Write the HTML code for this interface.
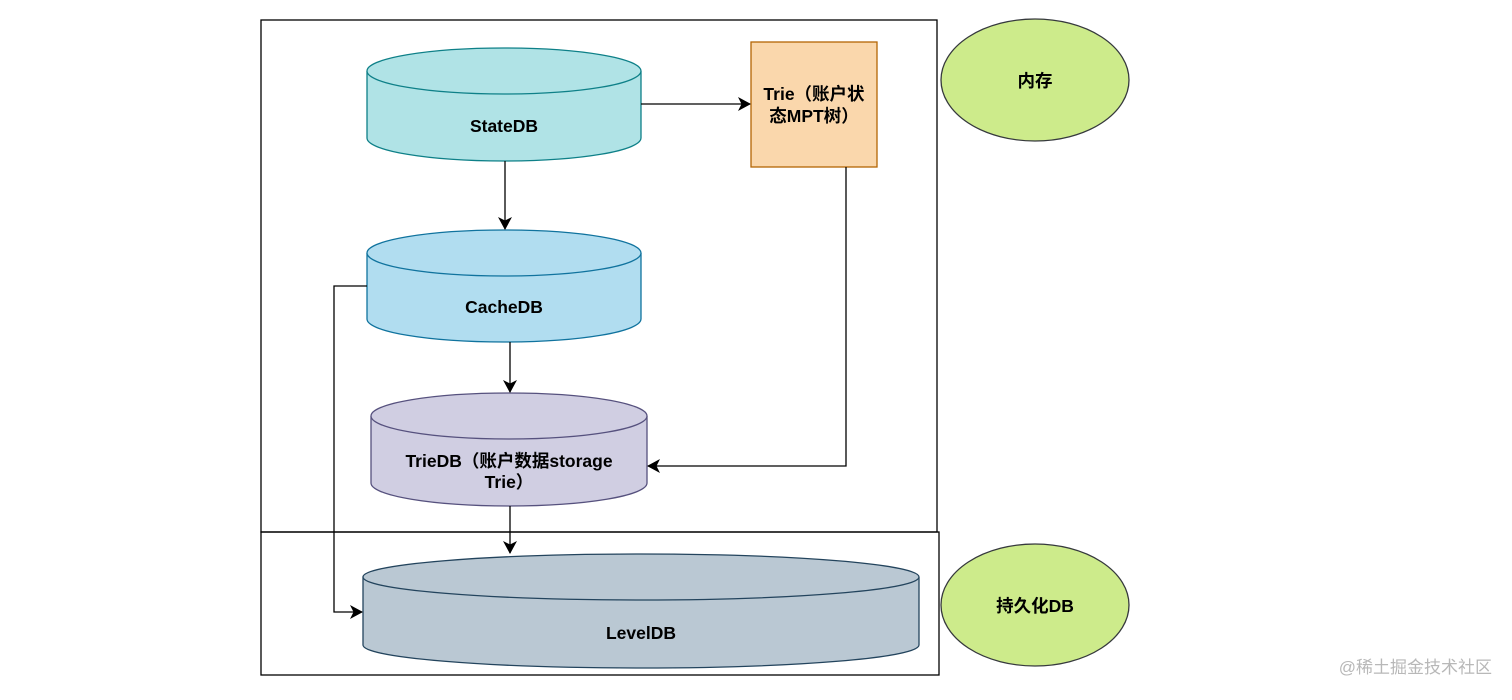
<!DOCTYPE html>
<html><head><meta charset="utf-8"><style>
html,body{margin:0;padding:0;background:#fff;width:1512px;height:700px;overflow:hidden}
text{font-family:"Liberation Sans","Noto Sans CJK SC",sans-serif;font-weight:bold;font-size:17.5px;fill:#000}
</style></head><body>
<svg width="1512" height="700" viewBox="0 0 1512 700" xmlns="http://www.w3.org/2000/svg">
<defs><marker id="a" markerWidth="14" markerHeight="14" refX="12" refY="7" orient="auto" markerUnits="userSpaceOnUse"><path d="M0,0 L13,7 L0,14 L3.5,7 Z" fill="#000"/></marker></defs>
<rect x="261" y="20" width="676" height="512" fill="none" stroke="#000" stroke-width="1.3"/>
<rect x="261" y="532" width="678" height="143" fill="none" stroke="#000" stroke-width="1.3"/>
<path d="M367,71 L367,138 A137,23 0 0 0 641,138 L641,71" fill="#b0e3e6" stroke="#0e8088" stroke-width="1.3"/>
<ellipse cx="504" cy="71" rx="137" ry="23" fill="#b0e3e6" stroke="#0e8088" stroke-width="1.3"/>
<text x="504" y="132" text-anchor="middle">StateDB</text>
<path d="M367,253 L367,319 A137,23 0 0 0 641,319 L641,253" fill="#b1ddf0" stroke="#10739e" stroke-width="1.3"/>
<ellipse cx="504" cy="253" rx="137" ry="23" fill="#b1ddf0" stroke="#10739e" stroke-width="1.3"/>
<text x="504" y="313" text-anchor="middle">CacheDB</text>
<path d="M371,416 L371,483 A138,23 0 0 0 647,483 L647,416" fill="#d0cee2" stroke="#56517e" stroke-width="1.3"/>
<ellipse cx="509" cy="416" rx="138" ry="23" fill="#d0cee2" stroke="#56517e" stroke-width="1.3"/>
<text x="509" y="467" text-anchor="middle">TrieDB（账户数据storage</text>
<text x="509" y="488" text-anchor="middle">Trie）</text>
<path d="M363,577 L363,645 A278,23 0 0 0 919,645 L919,577" fill="#bac8d3" stroke="#23445d" stroke-width="1.3"/>
<ellipse cx="641" cy="577" rx="278" ry="23" fill="#bac8d3" stroke="#23445d" stroke-width="1.3"/>
<text x="641" y="639" text-anchor="middle">LevelDB</text>
<rect x="751" y="42" width="126" height="125" fill="#fad7ac" stroke="#b46504" stroke-width="1.3"/>
<text x="814" y="100" text-anchor="middle">Trie（账户状</text>
<text x="814" y="122" text-anchor="middle">态MPT树）</text>
<ellipse cx="1035" cy="80" rx="94" ry="61" fill="#cdeb8b" stroke="#36393d" stroke-width="1.3"/>
<text x="1035" y="87" text-anchor="middle">内存</text>
<ellipse cx="1035" cy="605" rx="94" ry="61" fill="#cdeb8b" stroke="#36393d" stroke-width="1.3"/>
<text x="1035" y="612" text-anchor="middle">持久化DB</text>
<g fill="none" stroke="#000" stroke-width="1.3">
<path d="M641,104 L750,104" marker-end="url(#a)"/>
<path d="M505,161 L505,229" marker-end="url(#a)"/>
<path d="M510,342 L510,392" marker-end="url(#a)"/>
<path d="M510,506 L510,553" marker-end="url(#a)"/>
<path d="M846,167 L846,466 L648,466" marker-end="url(#a)"/>
<path d="M367,286 L334,286 L334,612 L362,612" marker-end="url(#a)"/>
</g>
<text x="1492" y="673" text-anchor="end" style="font-weight:normal;font-size:17px;fill:#b8b8b8">@稀土掘金技术社区</text>
</svg>
</body></html>
